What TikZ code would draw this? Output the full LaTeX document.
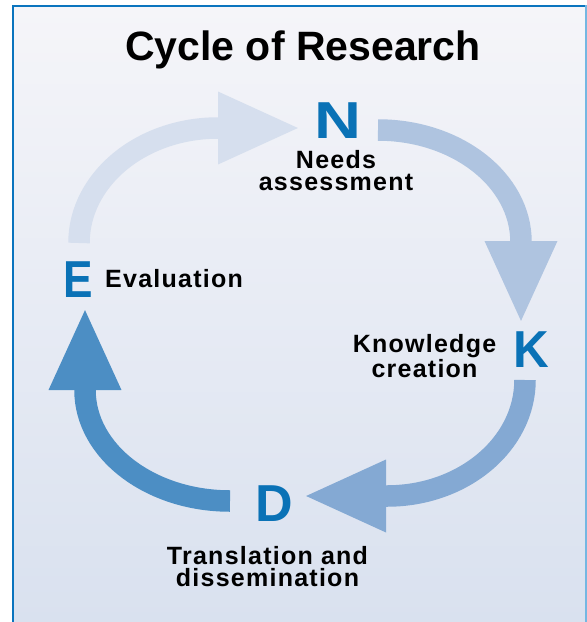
\documentclass[tikz,border=0pt]{standalone}
\usepackage{fontspec}
\usepackage{graphicx}
\setmainfont{Liberation Sans}
\newfontfamily\labelfont[LetterSpace=5]{Liberation Sans}
\usetikzlibrary{arrows.meta}
\definecolor{frameblue}{HTML}{0A74BE}
\definecolor{edgeblue}{HTML}{74B7E2}
\definecolor{bgtop}{HTML}{F5F5F9}
\definecolor{bgbot}{HTML}{D9E1EF}
\definecolor{letterblue}{HTML}{0A72B6}
\definecolor{arrA}{HTML}{D6DFEE}
\definecolor{arrB}{HTML}{AFC4E0}
\definecolor{arrC}{HTML}{84A9D3}
\definecolor{arrD}{HTML}{4C8EC4}
\begin{document}
\begin{tikzpicture}[x=1pt,y=-1pt,
  letter/.style={font=\fontsize{52}{52}\selectfont\bfseries, text=letterblue, inner sep=0pt, anchor=base},
  lbl/.style={font=\labelfont\fontsize{25}{22}\selectfont\bfseries, align=center, inner sep=0pt, anchor=base},
  flow/.style={line width=21.5pt, -{Triangle[width=66pt,length=83pt]}}]
\useasboundingbox (0,0) rectangle (587,622);
\fill[white] (0,0) rectangle (587,622);
\shade[top color=bgtop, bottom color=bgbot] (14,7) rectangle (585,622);
\fill[frameblue] (12,5) rectangle (14,622);
\fill[frameblue] (12,5) rectangle (586,7);
\fill[edgeblue] (585,5) rectangle (587,622);

\node[font=\fontsize{41}{41}\selectfont\bfseries, anchor=base, inner sep=0pt] (title) at (303,60) {Cycle of Research};

\node[letter] (N) at (337.5,138) {\scalebox{1.25}[1]{N}};
\node[letter] (K) at (531.5,367) {\scalebox{0.95}[1]{K}};
\node[letter] (E) at (78.5,297) {\scalebox{0.85}[1]{E}};
\node[letter] (D) at (274,521) {D};

\node[lbl] (Nl) at (336,190) {Needs\\assessment};
\node[lbl] (Kl) at (424.5,377) {Knowledge\\creation};
\node[lbl, anchor=base west] (El) at (105,287) {Evaluation};
\node[lbl] (Dl) at (267.5,586) {Translation and\\dissemination};

\coordinate (e1) at (79,243); \coordinate (n1) at (301,128);
\draw[flow, arrA] (e1) arc[start angle=180, end angle=270, x radius=139, y radius=115] -- (n1);
\coordinate (n2) at (378,130); \coordinate (k2) at (521,324);
\draw[flow, arrB] (n2) arc[start angle=270, end angle=360, x radius=143, y radius=112] -- (k2);
\coordinate (k3) at (525,380); \coordinate (d3) at (303,496);
\draw[flow, arrC] (k3) arc[start angle=0, end angle=90, x radius=138, y radius=116] -- (d3);
\coordinate (d4) at (230,501); \coordinate (e4) at (85,307);
\draw[flow, arrD] (d4) arc[start angle=90, end angle=180, x radius=145, y radius=111] -- (e4);
\end{tikzpicture}
\end{document}
